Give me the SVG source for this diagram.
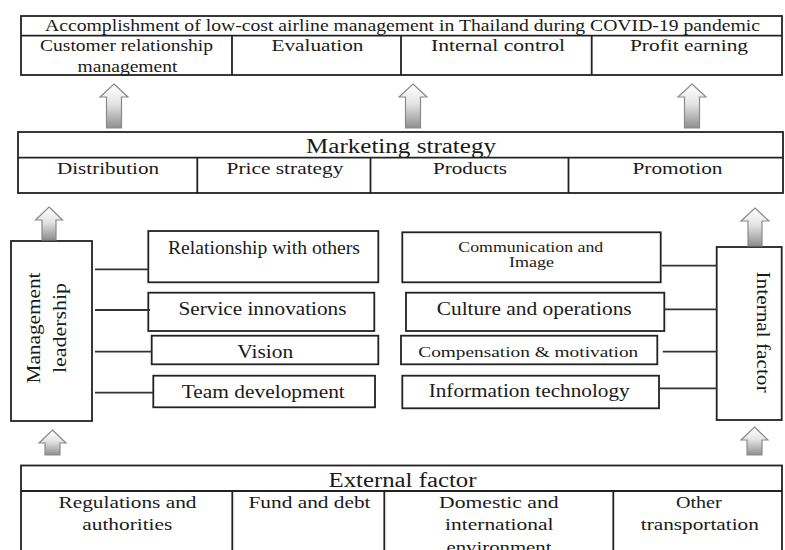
<svg xmlns="http://www.w3.org/2000/svg" width="785" height="550" viewBox="0 0 785 550">
<style>
.box{fill:#fff;stroke:#222;stroke-width:1.8}
.ln{stroke:#222;stroke-width:1.8;fill:none}
.con{stroke:#333;stroke-width:1.8;fill:none}
.t{font-family:"Liberation Serif","Times New Roman",serif;fill:#1a1a1a;text-anchor:middle}
.arw{fill:url(#ag);stroke:#8a8a8a;stroke-width:1.2}
</style>
<defs>
<linearGradient id="ag" x1="0" y1="0" x2="0" y2="1">
<stop offset="0" stop-color="#ffffff"/>
<stop offset="0.45" stop-color="#e4e4e4"/>
<stop offset="1" stop-color="#8e8e8e"/>
</linearGradient>
</defs>
<rect width="785" height="550" fill="#fff"/>

<g id="accomplishment">
<rect class="box" x="21" y="16" width="761" height="59"/>
<line class="ln" x1="21" y1="35.7" x2="782" y2="35.7"/>
<line class="ln" x1="232" y1="35.7" x2="232" y2="75"/>
<line class="ln" x1="401" y1="35.7" x2="401" y2="75"/>
<line class="ln" x1="591.7" y1="35.7" x2="591.7" y2="75"/>
<text class="t" x="402.5" y="30.5" font-size="17" textLength="715" lengthAdjust="spacingAndGlyphs">Accomplishment of low-cost airline management in Thailand during COVID-19 pandemic</text>
<text class="t" x="126.5" y="51" font-size="17" textLength="173" lengthAdjust="spacingAndGlyphs">Customer relationship</text>
<text class="t" x="127.5" y="71.5" font-size="17" textLength="100" lengthAdjust="spacingAndGlyphs">management</text>
<text class="t" x="317.5" y="51" font-size="17" textLength="92" lengthAdjust="spacingAndGlyphs">Evaluation</text>
<text class="t" x="498" y="51" font-size="17" textLength="134" lengthAdjust="spacingAndGlyphs">Internal control</text>
<text class="t" x="689" y="51" font-size="17" textLength="118" lengthAdjust="spacingAndGlyphs">Profit earning</text>
</g>

<g id="marketing">
<rect class="box" x="18" y="132" width="765" height="61"/>
<line class="ln" x1="18" y1="157.7" x2="783" y2="157.7"/>
<line class="ln" x1="197.3" y1="157.7" x2="197.3" y2="193"/>
<line class="ln" x1="370.5" y1="157.7" x2="370.5" y2="193"/>
<line class="ln" x1="568.5" y1="157.7" x2="568.5" y2="193"/>
<text class="t" x="401" y="153" font-size="20" textLength="190" lengthAdjust="spacingAndGlyphs">Marketing strategy</text>
<text class="t" x="108" y="174.3" font-size="17.5" textLength="102" lengthAdjust="spacingAndGlyphs">Distribution</text>
<text class="t" x="285" y="174.3" font-size="17.5" textLength="117" lengthAdjust="spacingAndGlyphs">Price strategy</text>
<text class="t" x="470" y="174.3" font-size="17.5" textLength="74" lengthAdjust="spacingAndGlyphs">Products</text>
<text class="t" x="677.5" y="174.3" font-size="17.5" textLength="90" lengthAdjust="spacingAndGlyphs">Promotion</text>
</g>

<g id="management-leadership">
<rect class="box" x="11" y="241" width="81" height="180"/>
<text class="t" transform="translate(40,328) rotate(-90)" font-size="19" textLength="111" lengthAdjust="spacingAndGlyphs">Management</text>
<text class="t" transform="translate(66,328) rotate(-90)" font-size="19" textLength="90" lengthAdjust="spacingAndGlyphs">leadership</text>
</g>

<g id="relationship-with-others">
<rect class="box" x="148.3" y="231" width="230" height="51.3"/>
<text class="t" x="264" y="254" font-size="18" textLength="192" lengthAdjust="spacingAndGlyphs">Relationship with others</text>
</g>
<g id="service-innovations">
<rect class="box" x="148.3" y="292.7" width="226" height="38.3"/>
<text class="t" x="262.5" y="315" font-size="18" textLength="168" lengthAdjust="spacingAndGlyphs">Service innovations</text>
</g>
<g id="vision">
<rect class="box" x="151.7" y="335.7" width="226.6" height="28.6"/>
<text class="t" x="265.3" y="357.5" font-size="18" textLength="56" lengthAdjust="spacingAndGlyphs">Vision</text>
</g>
<g id="team-development">
<rect class="box" x="153.3" y="375.7" width="221.7" height="31.6"/>
<text class="t" x="263.3" y="397.5" font-size="18" textLength="163" lengthAdjust="spacingAndGlyphs">Team development</text>
</g>

<g id="communication-and-image">
<rect class="box" x="402.3" y="232.3" width="258.4" height="50"/>
<text class="t" x="530.8" y="251.5" font-size="15" textLength="145" lengthAdjust="spacingAndGlyphs">Communication and</text>
<text class="t" x="531.5" y="267" font-size="15" textLength="45" lengthAdjust="spacingAndGlyphs">Image</text>
</g>
<g id="culture-and-operations">
<rect class="box" x="406" y="292.7" width="258.3" height="38.3"/>
<text class="t" x="534.2" y="315" font-size="18" textLength="195" lengthAdjust="spacingAndGlyphs">Culture and operations</text>
</g>
<g id="compensation-motivation">
<rect class="box" x="401" y="335.7" width="256.3" height="28.6"/>
<text class="t" x="528.3" y="357.3" font-size="15.5" textLength="220" lengthAdjust="spacingAndGlyphs">Compensation &amp; motivation</text>
</g>
<g id="information-technology">
<rect class="box" x="402.3" y="375.7" width="256.7" height="32.6"/>
<text class="t" x="529.2" y="396.8" font-size="18" textLength="201" lengthAdjust="spacingAndGlyphs">Information technology</text>
</g>

<g id="internal-factor">
<rect class="box" x="716.7" y="247" width="65" height="173"/>
<text class="t" transform="translate(757,332) rotate(90)" font-size="19" textLength="121" lengthAdjust="spacingAndGlyphs">Internal factor</text>
</g>

<g id="external-factor">
<rect class="box" x="21" y="465.5" width="761" height="100"/>
<line class="ln" x1="21" y1="491" x2="782" y2="491"/>
<line class="ln" x1="232.3" y1="491" x2="232.3" y2="550"/>
<line class="ln" x1="384.3" y1="491" x2="384.3" y2="550"/>
<line class="ln" x1="613.3" y1="491" x2="613.3" y2="550"/>
<text class="t" x="402.5" y="486.5" font-size="20" textLength="148" lengthAdjust="spacingAndGlyphs">External factor</text>
<text class="t" x="127.5" y="507.7" font-size="17" textLength="138" lengthAdjust="spacingAndGlyphs">Regulations and</text>
<text class="t" x="127.3" y="530" font-size="17" textLength="90" lengthAdjust="spacingAndGlyphs">authorities</text>
<text class="t" x="309.5" y="507.7" font-size="17" textLength="122" lengthAdjust="spacingAndGlyphs">Fund and debt</text>
<text class="t" x="498.8" y="507.7" font-size="17" textLength="119.5" lengthAdjust="spacingAndGlyphs">Domestic and</text>
<text class="t" x="499.3" y="530" font-size="17" textLength="108.5" lengthAdjust="spacingAndGlyphs">international</text>
<text class="t" x="499" y="552.5" font-size="17" textLength="105" lengthAdjust="spacingAndGlyphs">environment</text>
<text class="t" x="698.8" y="507.7" font-size="17" textLength="45.7" lengthAdjust="spacingAndGlyphs">Other</text>
<text class="t" x="699.8" y="530" font-size="17" textLength="118" lengthAdjust="spacingAndGlyphs">transportation</text>
</g>

<g id="connectors">
<line class="con" x1="95" y1="269.3" x2="148.3" y2="269.3"/>
<line class="con" x1="95" y1="310" x2="150" y2="310"/>
<line class="con" x1="95" y1="351.7" x2="151.7" y2="351.7"/>
<line class="con" x1="95" y1="392.7" x2="153.3" y2="392.7"/>
<line class="con" x1="661.7" y1="265.7" x2="716.7" y2="265.7"/>
<line class="con" x1="665" y1="309.3" x2="716.7" y2="309.3"/>
<line class="con" x1="662.7" y1="351.7" x2="716.7" y2="351.7"/>
<line class="con" x1="659" y1="388.3" x2="716.7" y2="388.3"/>
<path class="arw" d="M114,84 L128,97 L121.5,97 L121.5,128 L106.5,128 L106.5,97 L100,97 Z"/>
<path class="arw" d="M413,84 L427,97 L420.5,97 L420.5,128 L405.5,128 L405.5,97 L399,97 Z"/>
<path class="arw" d="M692,84 L706,97 L699.5,97 L699.5,128 L684.5,128 L684.5,97 L678,97 Z"/>
<path class="arw" d="M49,207 L62.5,220 L56,220 L56,240 L42,240 L42,220 L35.5,220 Z"/>
<path class="arw" d="M755,208 L769,221 L762,221 L762,246 L748,246 L748,221 L741,221 Z"/>
<path class="arw" d="M52.5,430 L66,443 L60,443 L60,455 L45,455 L45,443 L39,443 Z"/>
<path class="arw" d="M754.5,427 L768,440 L762,440 L762,455 L747,455 L747,440 L741,440 Z"/>
</g>
</svg>
